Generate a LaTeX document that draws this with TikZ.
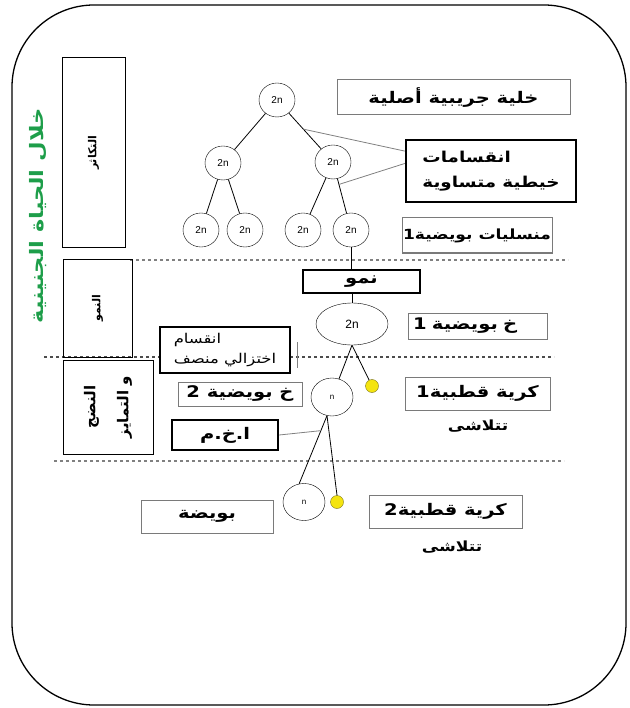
\documentclass[tikz,border=0pt]{standalone}
\usepackage{fontspec}
\setsansfont{Liberation Sans}
\newfontfamily\arfont[Script=Arabic, FakeStretch=1.22]{DejaVu Sans}
\newfontfamily\arplain[Script=Arabic]{DejaVu Sans}
\TeXXeTstate=1
\usetikzlibrary{shapes.geometric,calc}
\definecolor{embryo}{HTML}{1E9E4A}
\definecolor{polar}{HTML}{F4E410}
\definecolor{frame}{HTML}{7A7A7A}
\newcommand{\artx}[1]{\beginR #1\endR}
\begin{document}
\begin{tikzpicture}[x=1pt, y=-1pt,
  cell/.style={draw, ellipse, inner sep=0pt, minimum width=36pt, minimum height=34pt, font=\sffamily\fontsize{10}{11}\selectfont},
  pole/.style={draw=olive!80!black, circle, fill=polar, inner sep=0pt, minimum size=13pt},
  lab/.style={draw=frame, line width=1pt, fill=white, inner sep=1pt, font=\arfont\bfseries\fontsize{16}{18}\selectfont},
  key/.style={draw, line width=2.4pt, fill=white, inner sep=1pt, font=\arfont\bfseries\fontsize{16}{18}\selectfont},
  phase/.style={draw, line width=1pt, rotate=90, align=center, font=\arplain\bfseries\fontsize{11}{26}\selectfont},
  fade/.style={font=\arfont\bfseries\fontsize{14}{16}\selectfont},
  sep/.style={gray, dashed, line width=1.2pt},
  link/.style={line width=0.8pt}]
  \useasboundingbox (0,0) rectangle (629,708);
  \draw[line width=1.3pt, rounded corners=82pt] (12,5) rectangle (626,705);
  \draw[sep] (130,260) -- (568,260);
  \draw[sep, black!70, line width=1.6pt] (44,357) -- (554,357);
  \draw[sep] (54,461) -- (564,461);
  \draw[gray, line width=0.8pt] (297,342) -- (297,368);
  % stages
  \node[rotate=90, text=embryo, font=\arfont\bfseries\fontsize{18.5}{20}\selectfont] (life) at (38,216) {\artx{خلال الحياة الجنينية}};
  \node[phase, minimum width=190pt, minimum height=63pt] (mult) at (93.5,153) {\artx{التكاثر}};
  \node[phase, minimum width=98pt, minimum height=69pt] (growth) at (97.5,308) {\artx{النمو}};
  \node[phase, minimum width=94pt, minimum height=90pt, font=\arplain\bfseries\fontsize{15}{33}\selectfont] (matur) at (108,407) {\artx{النضج}\\\artx{و التمايز}};
  % oogonia
  \node[cell] (root) at (277,100) {2n};
  \node[cell] (l) at (223,163) {2n};
  \node[cell] (r) at (333,162) {2n};
  \node[cell] (ll) at (201,230) {2n};
  \node[cell] (lr) at (245,230) {2n};
  \node[cell] (rl) at (303,230) {2n};
  \node[cell] (rr) at (351,230) {2n};
  \foreach \a/\b in {root/l, root/r, l/ll, l/lr, r/rl, r/rr}
    \draw[link] (\a) -- (\b);
  \node[lab, minimum width=233pt, minimum height=35pt] (orig) at (453.5,97.5) {\artx{خلية جريبية أصلية}};
  \node[key, minimum width=170pt, minimum height=62pt, align=left, font=\arfont\bfseries\fontsize{15}{25}\selectfont] (divs) at (491,171) {\artx{انقسامات}\\\artx{خيطية متساوية}};
  \node[lab, minimum width=150pt, minimum height=35pt, font=\arfont\bfseries\fontsize{14}{16}\selectfont] (ogon) at (477,235.5) {\artx{منسليات بويضية\beginL 1\endL}};
  \coordinate (d1) at ($(root)!0.47!(r)$);
  \coordinate (d2) at ($(r)!0.33!(rr)$);
  \draw[link, gray] (divs.167) -- (d1);
  \draw[link, gray] (divs.175) -- (d2);
  % growth
  \node[key, minimum width=117pt, minimum height=23pt] (grow) at (361.5,281.5) {\artx{نمو}};
  \draw[link] (rr.south) -- (rr.south |- grow.north);
  \node[cell, minimum width=72pt, minimum height=42pt, font=\sffamily\fontsize{12}{13}\selectfont] (oo1c) at (352,324) {2n};
  \draw[link] (grow.south -| oo1c.north) -- (oo1c.north);
  \node[lab, inner xsep=5pt, text width=129pt, minimum height=26pt, align=left] (oo1) at (477.5,326) {\artx{خ بويضية \beginL 1\endL}};
  % meiosis
  \node[key, line width=2pt, minimum width=130pt, minimum height=46pt, align=left, font=\arfont\fontsize{13.5}{20}\selectfont] (meio) at (225,350) {\artx{انقسام}\\\artx{اختزالي منصف}};
  \node[cell, minimum width=42pt, minimum height=38pt, font=\sffamily\fontsize{8}{9}\selectfont] (n1) at (332,397) {n};
  \node[pole] (p1) at (372,386) {};
  \draw[link] (oo1c.south) -- (n1);
  \draw[link] (oo1c.south) -- (p1);
  \node[lab, minimum width=124pt, minimum height=24pt] (oo2) at (240,394) {\artx{خ بويضية \beginL 2\endL}};
  \node[lab, minimum width=145pt, minimum height=33pt] (pb1) at (477.5,393.5) {\artx{كرية قطبية\beginL 1\endL}};
  \node[fade] (fade1) at (478,426) {\artx{تتلاشى}};
  \node[key, minimum width=106pt, minimum height=30pt] (ovul) at (225,435) {\artx{ا.خ.م}};
  \node[cell, minimum width=42pt, minimum height=37pt, font=\sffamily\fontsize{8}{9}\selectfont] (n2) at (304,502) {n};
  \node[pole] (p2) at (337,502) {};
  \draw[link] (n1.-105) -- (n2.105);
  \draw[link] (n1.-105) -- (p2.north);
  \coordinate (k) at ($(n1.-105)!0.22!(n2.105)$);
  \draw[link, gray] (ovul.east) -- (k);
  \node[lab, minimum width=132pt, minimum height=33pt] (egg) at (207,516.5) {\artx{بويضة}};
  \node[lab, minimum width=153pt, minimum height=33pt] (pb2) at (445.5,511.5) {\artx{كرية قطبية\beginL 2\endL}};
  \node[fade] (fade2) at (452,547) {\artx{تتلاشى}};
\end{tikzpicture}
\end{document}
